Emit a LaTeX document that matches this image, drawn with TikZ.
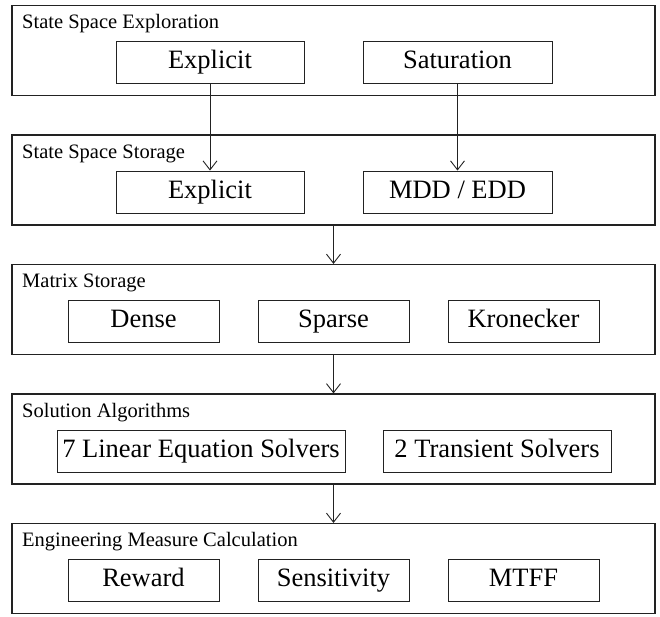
\documentclass[tikz,border=0pt]{standalone}
\usepackage{fontspec}
\setmainfont{Liberation Serif}
\usetikzlibrary{arrows.meta,positioning}
\definecolor{Ink}{HTML}{222222}
\tikzset{
  panel/.style={
    draw=Ink, line width=1.2pt, inner sep=0pt,
    minimum width=643pt, minimum height=90pt
  },
  panellabel/.style={
    anchor=base west, inner sep=0pt, font=\fontsize{20.5}{24}\selectfont
  },
  option/.style={
    draw=Ink, line width=0.9pt, inner sep=0pt,
    minimum width=151pt, minimum height=42pt,
    text height=17.5pt, text depth=5.5pt,
    font=\fontsize{26.5}{30}\selectfont
  },
  flow/.style={-{Straight Barb[length=9pt,width=14pt]}, line width=0.9pt, draw=Ink}
}

\begin{document}
\begin{tikzpicture}[x=1pt,y=-1pt]
  \useasboundingbox (0,0) rectangle (660,616);
  % stages
  \node[panel] (explore) at (333.5,50.5) {};
  \node[panel] (store)   at (333.5,180)  {};
  \node[panel] (matrix)  at (333.5,309.5){};
  \node[panel] (solve)   at (333.5,439)  {};
  \node[panel] (measure) at (333.5,568.5){};
  \node[panellabel] (exploreLbl) at (22,28)  {State Space Exploration};
  \node[panellabel] (storeLbl)   at (22,158) {State Space Storage};
  \node[panellabel] (matrixLbl)  at (22,287) {Matrix Storage};
  \node[panellabel] (solveLbl)   at (22,417) {Solution Algorithms};
  \node[panellabel] (measureLbl) at (22,546) {Engineering Measure Calculation};
  % choices in each stage
  \node[option,minimum width=188pt] (explicitA) at (210,62)   {Explicit};
  \node[option,minimum width=189pt] (satur)     at (457.5,62) {Saturation};
  \node[option,minimum width=188pt] (explicitB) at (210,192)  {Explicit};
  \node[option,minimum width=189pt] (mdd)       at (457.5,192){MDD / EDD};
  \node[option] (dense)     at (143.5,321.5) {Dense};
  \node[option] (sparse)    at (333.5,321.5) {Sparse};
  \node[option] (kron)      at (523.5,321.5) {Kronecker};
  \node[option,minimum width=288pt] (linear)    at (201,451) {7 Linear Equation Solvers};
  \node[option,minimum width=228pt] (transient) at (497,451) {2 Transient Solvers};
  \node[option] (reward)    at (143.5,580.5) {Reward};
  \node[option] (sens)      at (333.5,580.5) {Sensitivity};
  \node[option] (mtff)      at (523.5,580.5) {MTFF};
  % flow between stages
  \draw[flow] (explicitA) -- (explicitB);
  \draw[flow] (satur) -- (mdd);
  \draw[flow] (store) -- (matrix);
  \draw[flow] (matrix) -- (solve);
  \draw[flow] (solve) -- (measure);
\end{tikzpicture}
\end{document}
